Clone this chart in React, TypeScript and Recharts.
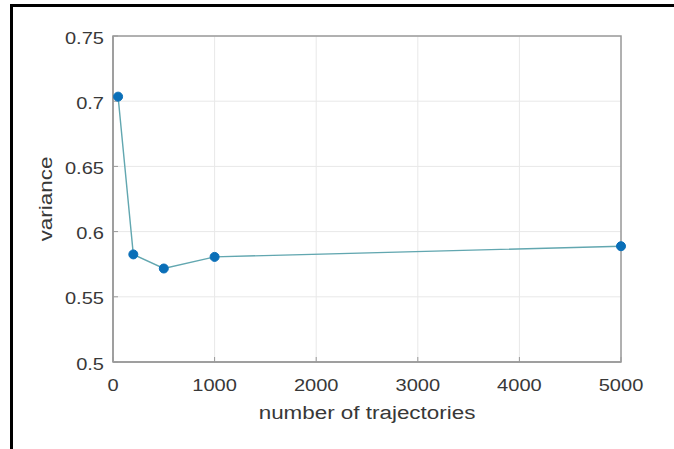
import React from 'react';
import { LineChart, Line, XAxis, YAxis, CartesianGrid, ReferenceArea } from 'recharts';

const trajectories = [50, 200, 500, 1000, 5000];
const variance = [0.7035, 0.5825, 0.5717, 0.5806, 0.5888];
const xTicks = [0, 1000, 2000, 3000, 4000, 5000];
const yTicks = [0.5, 0.55, 0.6, 0.65, 0.7, 0.75];

const data = trajectories.map((t, i) => ({ t, v: variance[i] }));

const FONT = '"Liberation Sans", Arial, Helvetica, sans-serif';
const TXT = '#383838';
const SX = 1.18;

const XTick = (props: any) => {
  const { x, y, payload } = props;
  return (
    <g transform={`translate(${x},${y})`}>
      <text transform={`scale(${SX},1)`} textAnchor="middle" dy="0.71em" fill={TXT} fontSize={17} fontFamily={FONT}>
        {String(payload.value)}
      </text>
    </g>
  );
};

const YTick = (props: any) => {
  const { x, y, payload } = props;
  return (
    <g transform={`translate(${x},${y + 1.5})`}>
      <text transform={`scale(${SX},1)`} textAnchor="end" dy="0.355em" fill={TXT} fontSize={17} fontFamily={FONT}>
        {String(payload.value)}
      </text>
    </g>
  );
};

const YLabel = (props: any) => {
  const vb = props.viewBox || {};
  const cx = 46;
  const cy = vb.y + vb.height / 2;
  return (
    <g transform={`translate(${cx},${cy}) rotate(-90) scale(${SX},1)`}>
      <text x={0} y={0} textAnchor="middle" dy="0.3em" fill={TXT} fontSize={19} fontFamily={FONT}>variance</text>
    </g>
  );
};

const XLabel = (props: any) => {
  const vb = props.viewBox || {};
  const cx = vb.x + vb.width / 2;
  return (
    <g transform={`translate(${cx},413) scale(${SX},1)`}>
      <text x={0} y={0} textAnchor="middle" dy="0.3em" fill={TXT} fontSize={19} fontFamily={FONT}>number of trajectories</text>
    </g>
  );
};

export default function App() {
  return (
    <div style={{ position: 'fixed', left: 0, top: 0, width: 674, height: 449, background: '#fff', overflow: 'hidden' }}>
      <div style={{ position: 'absolute', left: 10, top: 4, width: 700, height: 500, borderTop: '3px solid #000', borderLeft: '3px solid #000' }} />
      <div style={{ position: 'absolute', left: 0, top: 0 }}>
        <LineChart width={674} height={449} data={data} margin={{ top: 36, right: 53, left: 0, bottom: 0 }}>
          <CartesianGrid stroke="#e8e8e8" strokeWidth={1} horizontal vertical />
          <ReferenceArea x1={0} x2={5000} y1={0.5} y2={0.75} stroke="#9a9a9a" strokeWidth={1.5} fill="none" fillOpacity={0} ifOverflow="visible" />
          <XAxis
            dataKey="t"
            type="number"
            domain={[0, 5000]}
            ticks={xTicks}
            height={87}
            axisLine={{ stroke: '#9a9a9a', strokeWidth: 1.5 }}
            tickLine={{ stroke: '#9a9a9a' }}
            tickSize={-5}
            tickMargin={22}
            tick={<XTick />}
            label={<XLabel />}
          />
          <YAxis
            type="number"
            domain={[0.5, 0.75]}
            ticks={yTicks}
            width={113}
            axisLine={{ stroke: '#9a9a9a', strokeWidth: 1.5 }}
            tickLine={{ stroke: '#9a9a9a' }}
            tickSize={-5}
            tickMargin={14}
            tick={<YTick />}
            label={<YLabel />}
          />
          <Line
            dataKey="v"
            type="linear"
            stroke="#62a7b0"
            strokeWidth={1.4}
            dot={{ r: 4.5, fill: '#0a6fb8', stroke: '#0a6fb8', strokeWidth: 1 }}
            isAnimationActive={false}
          />
        </LineChart>
      </div>
    </div>
  );
}
